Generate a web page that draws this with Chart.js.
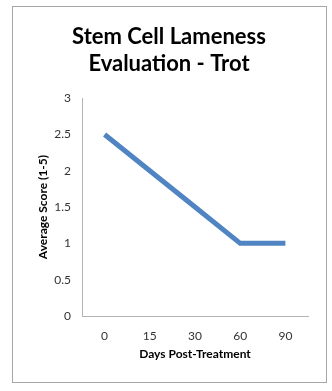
<!DOCTYPE html>
<html>
<head>
<meta charset="utf-8">
<script src="https://cdn.jsdelivr.net/npm/chart.js@4.4.1/dist/chart.umd.min.js"></script>
<style>
  html, body { margin: 0; padding: 0; background: #fff; }
  #wrap { width: 332px; height: 391px; }
</style>
</head>
<body>
<div id="wrap"><canvas id="grafico-trote" width="332" height="391"></canvas></div>
<script>
// Datos
const dias = ["0", "15", "30", "60", "90"];
const puntaje = [2.5, 2.0, 1.5, 1.0, 1.0];
const tituloLineas = ["Stem Cell Lameness", "Evaluation - Trot"];

const fuente = "Lato, 'Open Sans', sans-serif";

// Marco gris alrededor del grafico
const marco = {
    id: "marco",
    beforeDraw(chart) {
        const c = chart.ctx;
        c.save();
        c.fillStyle = "#fff";
        c.fillRect(0, 0, chart.width, chart.height);
        c.strokeStyle = "#a6a6a6";
        c.lineWidth = 1;
        c.strokeRect(12.5, 6.5, 314, 376);
        c.restore();
    }
};

const ctx = document.getElementById("grafico-trote").getContext("2d");

new Chart(ctx, {
    type: "line",
    data: {
        labels: dias,
        datasets: [{
            label: "Average Score",
            data: puntaje,
            borderColor: "#5084c2",
            borderWidth: 5,
            pointRadius: 0,
            tension: 0,
            fill: false
        }]
    },
    options: {
        responsive: false,
        animation: false,
        layout: { padding: { left: 12, right: 6, top: 0, bottom: 25 } },
        plugins: {
            legend: { display: false },
            tooltip: { enabled: false },
            title: {
                display: true,
                text: tituloLineas,
                color: "#000",
                font: { family: fuente, size: 22, weight: "bold", lineHeight: 1.23 },
                padding: { top: 23, bottom: 21 }
            }
        },
        scales: {
            x: {
                offset: true,
                grid: { display: false },
                border: { display: true, color: "#b3b3b3", width: 1 },
                ticks: { color: "#333", padding: 5, font: { family: fuente, size: 12 } },
                title: {
                    display: true,
                    text: "Days Post-Treatment",
                    color: "#000",
                    font: { family: fuente, size: 12, weight: "bold" },
                    padding: { top: 0, bottom: 5 }
                },
                afterFit(scale) { scale.height = 50; }
            },
            y: {
                min: 0,
                max: 3,
                ticks: {
                    stepSize: 0.5,
                    color: "#333",
                    padding: 3,
                    font: { family: fuente, size: 12 },
                    callback: (v) => String(v)
                },
                grid: { display: false },
                border: { display: true, color: "#b3b3b3", width: 1 },
                title: {
                    display: true,
                    text: "Average Score (1-5)",
                    color: "#000",
                    font: { family: fuente, size: 12, weight: "bold" },
                    padding: { top: 24, bottom: 0 }
                },
                afterFit(scale) { scale.width = 70; }
            },
            derecha: {
                position: "right",
                display: true,
                grid: { display: false },
                border: { display: false },
                ticks: { display: false },
                afterFit(scale) { scale.width = 18; }
            }
        }
    },
    plugins: [marco]
});
</script>
</body>
</html>
